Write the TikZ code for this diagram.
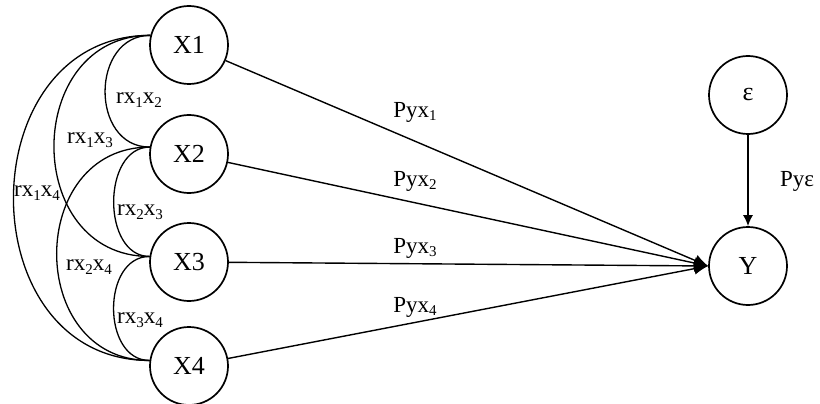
\documentclass[tikz,border=0pt]{standalone}
\usepackage{fontspec}
\setmainfont{Liberation Serif}
\usetikzlibrary{arrows.meta}
\newcommand\subx[1]{\raisebox{-0.35ex}{\fontsize{15}{15}\selectfont #1}}
\begin{document}
\begin{tikzpicture}[x=1pt,y=-1pt,
  var/.style={draw,circle,line width=1.7pt,minimum size=78pt,inner sep=0pt,font=\fontsize{26}{30}\selectfont},
  lbl/.style={font=\fontsize{23}{26}\selectfont,inner sep=0pt},
  path/.style={line width=1.4pt,-{Latex[length=14pt,width=12pt]}},
  corr/.style={line width=1.3pt}]
\useasboundingbox (0,0) rectangle (820,404);
\node[var] (X1) at (189,45) {X1};
\node[var] (X2) at (189,154) {X2};
\node[var] (X3) at (189,262) {X3};
\node[var] (X4) at (189,366) {X4};
\node[var] (Y) at (748,266) {Y};
\node[var] (E) at (748,95) {ε};
\coordinate (Yw) at (Y.west);
\draw[path] (X1) -- (Yw);
\draw[path] (X2) -- (Yw);
\draw[path] (X3) -- (Yw);
\draw[path] (X4) -- (Yw);
\draw[line width=1.4pt,-{Latex[length=11pt,width=10pt]}] (E) -- (Y);
% correlations
\draw[corr] (X1.166) .. controls +(-60,0) and +(-60,0) .. (X2.170);
\draw[corr] (X2.170) .. controls +(-48,0) and +(-48,0) .. (X3.172);
\draw[corr] (X3.172) .. controls +(-48,0) and +(-48,0) .. (X4.172);
\draw[corr] (X1.166) .. controls +(-128,0) and +(-128,0) .. (X3.172);
\draw[corr] (X2.170) .. controls +(-124,0) and +(-124,0) .. (X4.172);
\draw[corr] (X1.166) .. controls +(-182,0) and +(-182,0) .. (X4.172);
% labels
\node[lbl] (l12) at (139,100) {rx\subx{1}x\subx{2}};
\node[lbl] (l13) at (90,140) {rx\subx{1}x\subx{3}};
\node[lbl] (l14) at (37,193) {rx\subx{1}x\subx{4}};
\node[lbl] (l23) at (140,212) {rx\subx{2}x\subx{3}};
\node[lbl] (l24) at (89,267) {rx\subx{2}x\subx{4}};
\node[lbl] (l34) at (140,320) {rx\subx{3}x\subx{4}};
\node[lbl] (p1) at (415,112) {Pyx\subx{1}};
\node[lbl] (p2) at (415,181) {Pyx\subx{2}};
\node[lbl] (p3) at (415,248) {Pyx\subx{3}};
\node[lbl] (p4) at (415,307) {Pyx\subx{4}};
\node[lbl] (pe) at (797,181) {Pyε};
\end{tikzpicture}
\end{document}
